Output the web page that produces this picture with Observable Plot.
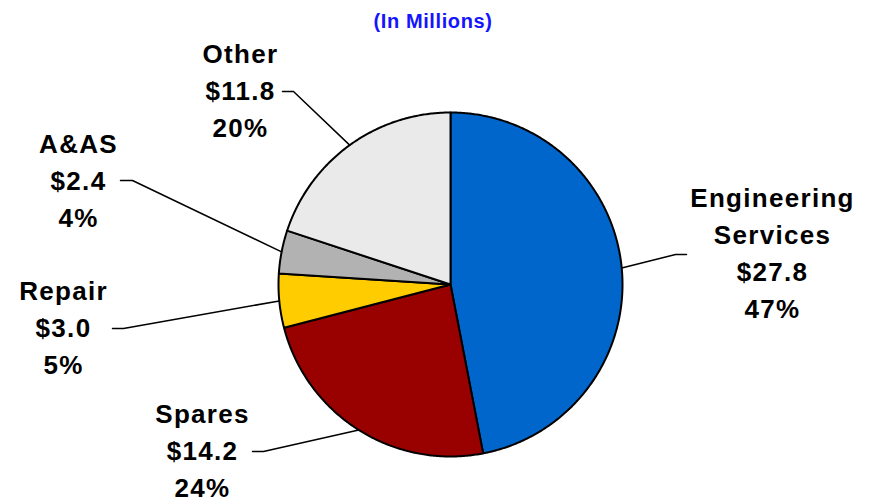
<!DOCTYPE html>
<html><head><meta charset="utf-8">
<script src="https://cdn.jsdelivr.net/npm/d3@7"></script>
<script src="https://cdn.jsdelivr.net/npm/@observablehq/plot@0.6"></script>
<style>
body{margin:0;background:#fff;}
svg g[font-size="26"] text{letter-spacing:1.3px;}
svg g[font-size="20"] text{letter-spacing:0.6px;}
</style></head><body><div id="chart"></div>
<script>
// ---- data ----
const categories = ["Engineering Services","Spares","Repair","A&AS","Other"];
const values = [27.8, 14.2, 3.0, 2.4, 11.8];
const valueLabels = ["$27.8","$14.2","$3.0","$2.4","$11.8"];
const percentLabels = ["47%","24%","5%","4%","20%"];
const nameLabels = ["Engineering\nServices","Spares","Repair","A&AS","Other"];
const titleText = "(In Millions)";

// ---- styles / layout ----
const colors = ["#0066CC","#990000","#FFCC00","#B2B2B2","#EAEAEA"];
const cx = 450, cy = 284, r = 172;
const fontSize = 26, lineHeight = 37 / 26;
// first-baseline position of each label block (center x)
const labelAnchor = [[772,207],[202,423],[63,300],[78,153],[240,63]];
// leader line: text-side start, elbow
const leaderStart = [[686,254],[252,451],[112,328],[120,180],[282,91]];
const leaderElbow = [[675,254],[263,451],[123,328],[132,180],[293,91]];

// ---- build geometry from values ----
const total = d3.sum(values);
let acc = 0;
const slices = values.map((v, i) => {
  const a0 = acc / total * 2 * Math.PI;
  acc += v;
  const a1 = acc / total * 2 * Math.PI;
  return {i, a0, a1, mid: (a0 + a1) / 2};
});
const px = a => cx + r * Math.sin(a);
const py = a => cy - r * Math.cos(a);

const slicePts = [];
for (const s of slices) {
  slicePts.push({key: categories[s.i], x: cx, y: cy, color: colors[s.i]});
  const n = Math.max(2, Math.ceil((s.a1 - s.a0) / (Math.PI / 360)));
  for (let k = 0; k <= n; ++k) {
    const a = s.a0 + (s.a1 - s.a0) * k / n;
    slicePts.push({key: categories[s.i], x: px(a), y: py(a), color: colors[s.i]});
  }
}

const leaderPts = [];
for (const s of slices) {
  const key = categories[s.i];
  leaderPts.push({key, x: leaderStart[s.i][0], y: leaderStart[s.i][1]});
  leaderPts.push({key, x: leaderElbow[s.i][0], y: leaderElbow[s.i][1]});
  leaderPts.push({key, x: px(s.mid), y: py(s.mid)});
}

const labels = categories.map((c, i) => ({
  x: labelAnchor[i][0], y: labelAnchor[i][1],
  text: nameLabels[i] + "\n" + valueLabels[i] + "\n" + percentLabels[i]
}));

const font = "Liberation Sans, Arial, Helvetica, sans-serif";

const chart = Plot.plot({
  width: 873, height: 498, margin: 0,
  x: {type: "identity", axis: null}, y: {type: "identity", axis: null},
  color: {type: "identity"},
  marks: [
    Plot.line(slicePts, {x: "x", y: "y", z: "key", fill: "color", stroke: "#000", strokeWidth: 2, curve: "linear-closed", strokeLinejoin: "round"}),
    Plot.line(leaderPts, {x: "x", y: "y", z: "key", stroke: "#000", strokeWidth: 1.5}),
    Plot.text(labels, {x: "x", y: "y", text: "text", lineAnchor: "top", dy: -0.71 * lineHeight * fontSize,
      fontSize, lineHeight, fontWeight: "bold", fill: "#000", fontFamily: font}),
    Plot.text([titleText], {text: d => d, frameAnchor: "top", lineAnchor: "bottom", dx: -4, dy: 27,
      fontSize: 20, fontWeight: "bold", fill: "#1414FF", fontFamily: font})
  ]
});
document.getElementById("chart").appendChild(chart);
</script></body></html>
